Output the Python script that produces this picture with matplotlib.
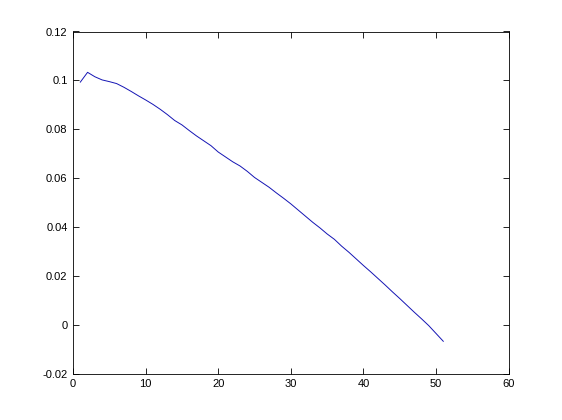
import numpy as np
import matplotlib
matplotlib.use("Agg")
import matplotlib.pyplot as plt

# values
x = np.arange(1, 52)
y = [0.0993, 0.1033, 0.1015, 0.1002, 0.0995, 0.0987, 0.0972, 0.0955, 0.0937, 0.0920,
     0.0902, 0.0882, 0.0860, 0.0836, 0.0818, 0.0795, 0.0773, 0.0753, 0.0733, 0.0707,
     0.0687, 0.0667, 0.0650, 0.0628, 0.0603, 0.0583, 0.0563, 0.0540, 0.0518, 0.0495,
     0.0470, 0.0445, 0.0420, 0.0397, 0.0372, 0.0350, 0.0322, 0.0297, 0.0270, 0.0243,
     0.0217, 0.0190, 0.0163, 0.0135, 0.0108, 0.0080, 0.0052, 0.0025, -0.0003, -0.0035,
     -0.0067]

plt.rcParams['font.family'] = ['Liberation Sans', 'DejaVu Sans']

fig = plt.figure(figsize=(5.62, 4.20), dpi=100)
ax = fig.add_axes([0.13, 0.11, 0.775, 0.815])
ax.plot(x, y, color="#1414b4", linewidth=0.7)

ax.set_xlim(0, 60)
ax.set_ylim(-0.02, 0.12)
ax.set_xticks(np.arange(0, 61, 10))
ax.set_yticks(np.arange(-0.02, 0.121, 0.02))
ax.set_yticklabels(["-0.02", "0", "0.02", "0.04", "0.06", "0.08", "0.1", "0.12"])
ax.tick_params(direction="in", top=True, right=True, length=4, width=0.6,
               labelsize=8, pad=4)
for s in ax.spines.values():
    s.set_linewidth(0.6)

fig.savefig("out.png", dpi=100)
